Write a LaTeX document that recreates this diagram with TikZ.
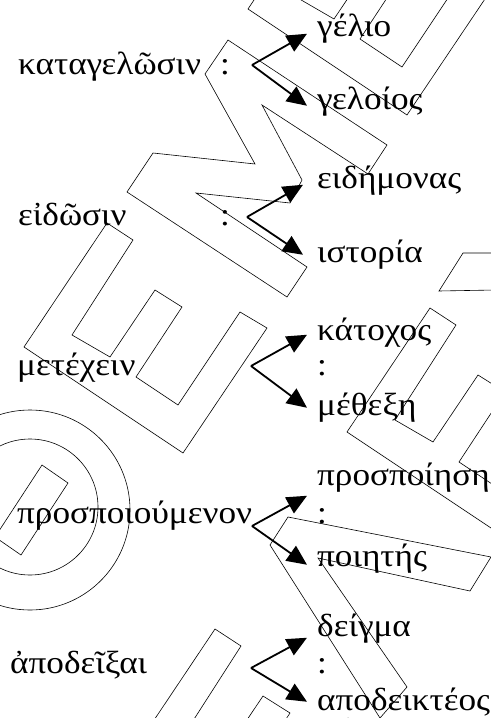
\documentclass[tikz,border=0pt]{standalone}
\usepackage{fontspec}
\setmainfont[FakeStretch=1.1]{Liberation Serif}
\usetikzlibrary{arrows.meta}
\begin{document}
\begin{tikzpicture}[x=1bp,y=-1bp,
  word/.style={anchor=base west, inner sep=0pt, font=\fontsize{32bp}{38bp}\selectfont},
  tgt/.style={word, text height=0.7em, text depth=0.25em},
  arr/.style={line width=1.8bp, -{Triangle[length=20bp,width=18bp]}},
  wm/.style={line width=0.6bp}
]
\useasboundingbox (0,0) rectangle (491,718);
% watermark
\begin{scope}
\clip (0,0) rectangle (491,718);
\begin{scope}[wm]
\draw (30,510) circle[radius=100];
\draw (30,507) circle[radius=68];
\draw (42,465) -- (68,483) -- (21,555) -- (-5,537) -- cycle;
\foreach \s in {{(0,0)},{(224,-338)},{(323,85)},{(108,406)}}{
  \draw[shift=\s] (24,347) -- (107,223) -- (133,240) -- (72,335) -- (110,357) -- (155,290) -- (182,307) -- (136,377) -- (178,405) -- (240,312) -- (267,328) -- (183,453) -- cycle;
}
\draw (127,192) -- (153,153) -- (255,164) -- (205,74) -- (228,40) -- (387,145) -- (368,174) -- (262,105) -- (302,180) -- (290,203) -- (196,193) -- (307,267) -- (287,297) -- cycle;
\draw (288,517) -- (491,557) -- (470,591) -- (318,558) -- (407,687) -- (380,718) -- (270,545) -- cycle;
\draw (495,253) -- (463,253) -- (439,291) -- (495,290);
\end{scope}
\end{scope}
% row 1
\node[word] (l1) at (18,75) {καταγελῶσιν};
\node[word] (c1) at (220,75) {:};
\coordinate (o1) at (252,65);
\node[tgt] (u1) at (317,37) {γέλιο};
\node[tgt] (d1) at (317,110) {γελοίος};
\draw[arr] (o1) -- ([xshift=-10bp,yshift=1bp]u1.west);
\draw[arr] (o1) -- ([xshift=-10bp,yshift=2bp]d1.west);
% row 2
\node[word] (l2) at (18,225) {εἰδῶσιν};
\node[word] (c2) at (220,225) {:};
\coordinate (o2) at (247,217);
\node[tgt] (u2) at (317,188) {ειδήμονας};
\node[tgt] (d2) at (317,262) {ιστορία};
\draw[arr] (o2) -- ([xshift=-14bp,yshift=1bp]u2.west);
\draw[arr] (o2) -- ([xshift=-14bp,yshift=5bp]d2.west);
% row 3
\node[word] (l3) at (17,375) {μετέχειν};
\coordinate (o3) at (251,366);
\node[tgt] (u3) at (317,340) {κάτοχος};
\node[word] (c3) at (317,375) {:};
\node[tgt] (d3) at (317,415) {μέθεξη};
\draw[arr] (o3) -- ([xshift=-10bp,yshift=3bp]u3.west);
\draw[arr] (o3) -- ([xshift=-10bp,yshift=5bp]d3.west);
% row 4
\node[word] (l4) at (17,523) {προσποιούμενον};
\coordinate (o4) at (252,526);
\node[tgt] (u4) at (317,485) {προσποίηση};
\node[word] (c4) at (317,523) {:};
\node[tgt] (d4) at (317,566) {ποιητής};
\draw[arr] (o4) -- ([xshift=-10bp,yshift=-13bp]u4.west);
\draw[arr] (o4) -- ([xshift=-10bp,yshift=-1bp]d4.west);
% row 5
\node[word] (l5) at (10,673) {ἀποδεῖξαι};
\coordinate (o5) at (251,668);
\node[tgt] (u5) at (317,636) {δείγμα};
\node[word] (c5) at (317,673) {:};
\node[tgt] (d5) at (317,710) {αποδεικτέος};
\draw[arr] (o5) -- ([xshift=-10bp,yshift=-4bp]u5.west);
\draw[arr] (o5) -- ([xshift=-10bp,yshift=6bp]d5.west);
\end{tikzpicture}
\end{document}
